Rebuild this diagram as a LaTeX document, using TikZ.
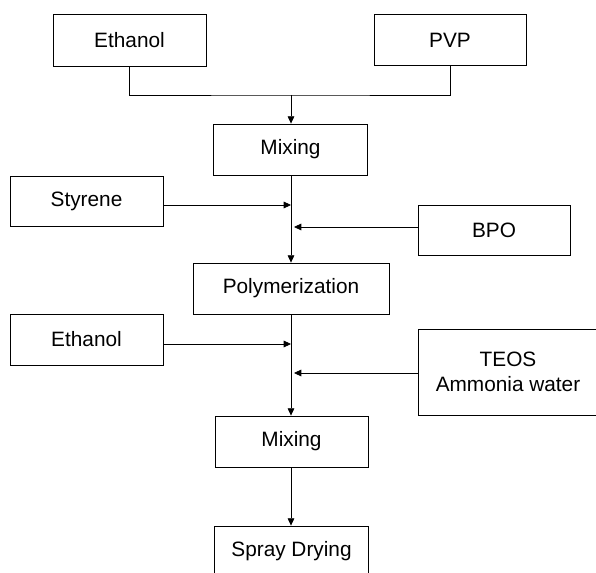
\documentclass[tikz,border=0pt]{standalone}
\usepackage{fontspec}
\setmainfont{Liberation Sans}
\usetikzlibrary{arrows.meta}
\begin{document}
\begin{tikzpicture}[x=0.75pt,y=-0.75pt,
  box/.style={draw, line width=0.6pt, inner sep=0pt, align=center,
    font=\fontsize{15.6}{18.8}\selectfont},
  conn/.style={line width=0.6pt},
  arr/.style={line width=0.6pt, -{Triangle[length=5.5pt,width=5pt]}}]
\useasboundingbox (0,0) rectangle (596,573);
\clip (0,0) rectangle (596,573);
\fill[white] (0,0) rectangle (596,573);
% boxes
\node[box, minimum width=153*0.75pt, minimum height=52*0.75pt] (eth1) at (129.5,40) {Ethanol};
\node[box, minimum width=152*0.75pt, minimum height=51*0.75pt] (pvp) at (450,40) {PVP};
\node[box, minimum width=154*0.75pt, minimum height=51*0.75pt] (mix1) at (290.5,149.5) {Mixing};
\node[box, minimum width=153*0.75pt, minimum height=50*0.75pt] (sty) at (86.5,201) {Styrene};
\node[box, minimum width=152*0.75pt, minimum height=50*0.75pt] (bpo) at (494,230) {BPO};
\node[box, minimum width=196*0.75pt, minimum height=51*0.75pt] (poly) at (291,288.5) {Polymerization};
\node[box, minimum width=153*0.75pt, minimum height=51*0.75pt] (eth2) at (86.5,339.5) {Ethanol};
\node[box, minimum width=180*0.75pt, minimum height=86*0.75pt] (teos) at (508,372) {TEOS\\Ammonia water};
\node[box, minimum width=153*0.75pt, minimum height=51*0.75pt] (mix2) at (291.5,441.5) {Mixing};
\node[box, minimum width=154*0.75pt, minimum height=51*0.75pt] (spray) at (291.5,551.5) {Spray Drying};
% junction coordinates
\coordinate (top) at (291,95);
\coordinate (js) at (291,205);
\coordinate (jb) at (294,227);
\coordinate (je) at (291,344);
\coordinate (jt) at (294,373);
% top merge
\draw[conn] (eth1.south) |- (top) -| (pvp.south);
\draw[arr] (top) -- (top |- mix1.north);
% main stream
\draw[arr] (mix1.south -| top) -- (poly.north -| top);
\draw[arr] (poly.south -| top) -- (mix2.north -| top);
\draw[arr] (mix2.south -| top) -- (spray.north -| top);
% side feeds
\draw[arr] (sty.east |- js) -- (js);
\draw[arr] (bpo.west |- jb) -- (jb);
\draw[arr] (eth2.east |- je) -- (je);
\draw[arr] (teos.west |- jt) -- (jt);
\end{tikzpicture}
\end{document}
